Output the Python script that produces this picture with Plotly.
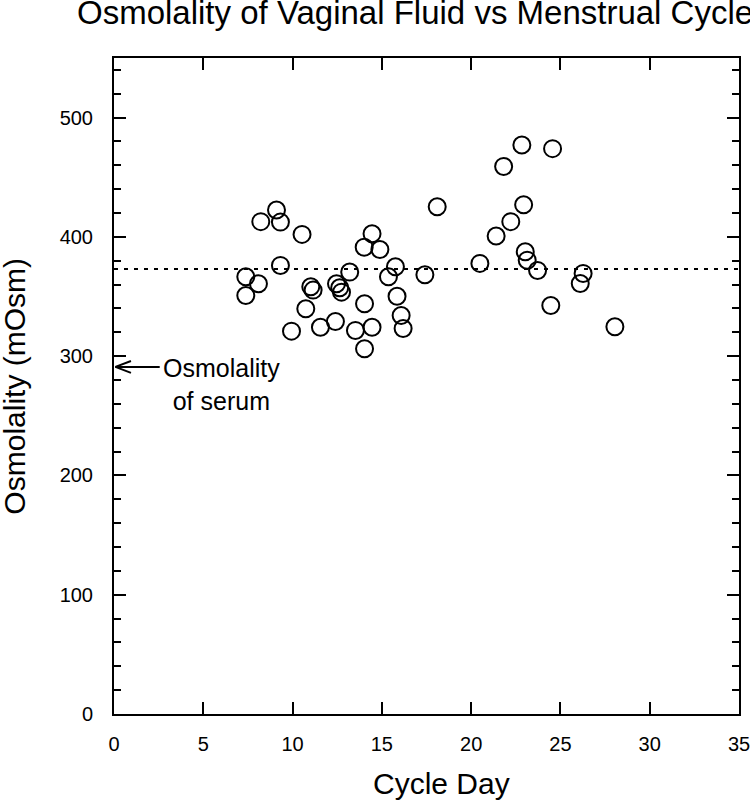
import plotly.graph_objects as go

# ---- data ----
cycle_day = [9.10, 8.22, 9.32, 10.53, 18.10, 14.45, 14.01, 14.89, 9.32, 7.38,
             8.09, 7.38, 13.20, 15.76, 15.37, 17.41, 11.02, 11.15, 12.46, 12.64,
             12.74, 10.74, 14.03, 15.85, 16.08, 16.19, 9.94, 11.56, 12.40, 13.52,
             14.45, 14.03, 22.84, 24.56, 21.82, 22.94, 22.22, 21.40, 23.03, 23.14,
             23.72, 20.49, 26.27, 26.11, 24.46, 28.05]
osmolality = [422.5, 412.8, 412.4, 402.1, 425.3, 402.7, 391.4, 389.5, 376.1, 366.6,
              360.7, 350.9, 370.5, 375.0, 366.6, 368.3, 358.2, 355.4, 360.7, 357.4,
              353.7, 339.8, 344.0, 350.3, 334.1, 323.2, 321.0, 324.3, 329.1, 321.6,
              324.3, 306.2, 477.0, 474.0, 459.1, 427.0, 412.8, 400.7, 387.6, 380.5,
              371.9, 377.8, 369.4, 361.0, 342.5, 324.7]
mean_line = 373          # dotted reference line
serum_osm = 291          # osmolality of serum (arrow)
x_ticks = [0, 5, 10, 15, 20, 25, 30, 35]
y_ticks = [0, 100, 200, 300, 400, 500]
x_range = [0, 35]
y_range = [0, 550]

FONT = "Liberation Sans, Arial, Helvetica, sans-serif"
W, H = 750, 805

fig = go.Figure()
fig.add_trace(go.Scatter(
    x=cycle_day, y=osmolality, mode="markers",
    marker=dict(symbol="circle-open", size=17, color="black",
                line=dict(width=2, color="black")),
    showlegend=False, cliponaxis=False))

# dotted horizontal line
fig.add_shape(type="line", xref="x", yref="y", x0=x_range[0], x1=x_range[1],
              y0=mean_line, y1=mean_line,
              line=dict(color="black", width=2, dash="4px,6px"))

# arrow to serum osmolality (open chevron head)
fig.add_shape(type="line", xref="x", yref="y", x0=2.56, x1=0.08,
              y0=serum_osm, y1=serum_osm, line=dict(color="black", width=2))
fig.add_shape(type="line", xref="x", yref="y", x0=0.08, x1=0.95,
              y0=serum_osm, y1=serum_osm + 5, line=dict(color="black", width=2))
fig.add_shape(type="line", xref="x", yref="y", x0=0.08, x1=0.95,
              y0=serum_osm, y1=serum_osm - 5, line=dict(color="black", width=2))
fig.add_annotation(x=2.65, y=serum_osm, xref="x", yref="y",
                   text="Osmolality<br>of serum", showarrow=False,
                   xanchor="left", yanchor="top", yshift=15, align="center",
                   font=dict(family=FONT, size=25, color="black"))

# axis titles
fig.add_annotation(x=0.5246, y=-0.1063, xref="paper", yref="paper",
                   text="Cycle Day", showarrow=False, xanchor="center", yanchor="middle",
                   font=dict(family=FONT, size=30, color="black"))
fig.add_annotation(x=-0.1606, y=0.5, xref="paper", yref="paper",
                   text="Osmolality (mOsm)", showarrow=False, textangle=-90,
                   xanchor="center", yanchor="middle",
                   font=dict(family=FONT, size=30, color="black"))

fig.update_layout(
    width=W, height=H,
    margin=dict(l=114, r=11, t=58, b=91, autoexpand=False),
    paper_bgcolor="white", plot_bgcolor="white",
    font=dict(family=FONT, color="black"),
    title=dict(text="Osmolality of Vaginal Fluid vs Menstrual Cycle",
               x=77 / W, xanchor="left", xref="container",
               y=1 - 12.5 / H, yanchor="middle", yref="container",
               font=dict(family=FONT, size=33, color="black")),
)
fig.update_xaxes(range=x_range, tickvals=x_ticks, ticks="inside", ticklen=12,
                 tickwidth=2, tickcolor="black", showline=True, linewidth=2,
                 linecolor="black", mirror="ticks", showgrid=False, zeroline=False,
                 tickfont=dict(family=FONT, size=20, color="black"),
                 ticklabelstandoff=11, automargin=False, ticklabeloverflow="allow")
fig.update_yaxes(range=y_range, tickvals=y_ticks, ticks="inside", ticklen=12,
                 tickwidth=2, tickcolor="black", showline=True, linewidth=2,
                 linecolor="black", mirror="ticks", showgrid=False, zeroline=False,
                 tickfont=dict(family=FONT, size=20, color="black"),
                 ticklabelstandoff=15, automargin=False, ticklabeloverflow="allow",
                 minor=dict(dtick=20, ticks="inside", ticklen=7, tickwidth=2,
                            tickcolor="black", showgrid=False))

fig.write_html("out.html",
               config={"displayModeBar": False},
               post_script="document.body.style.margin='0px';"
                           "document.body.style.overflow='hidden';")
